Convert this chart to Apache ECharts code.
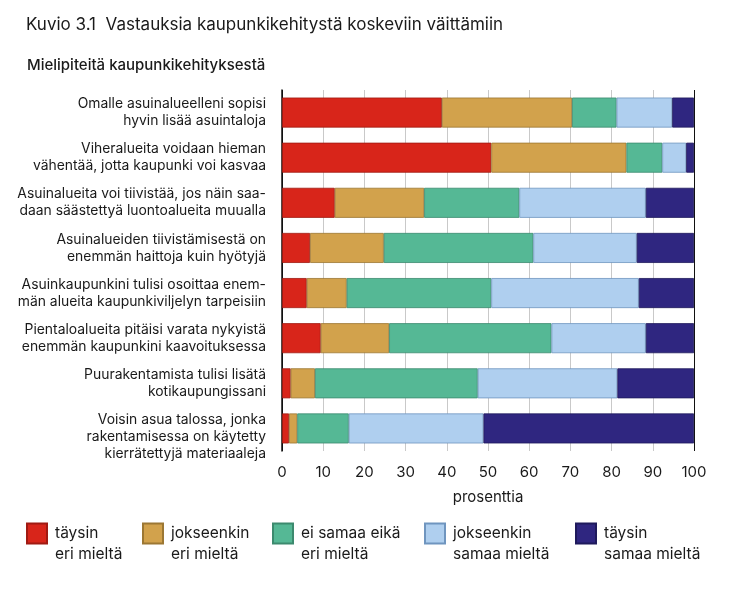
<!DOCTYPE html>
<html><head><meta charset="utf-8">
<script src="https://cdn.jsdelivr.net/npm/echarts@6/dist/echarts.min.js"></script>
<style>html,body{margin:0;padding:0;background:#fff}#c{width:730px;height:591px}</style>
</head><body><div id="c"></div>
<script>
const categories = [
  "Omalle asuinalueelleni sopisi\nhyvin lisää asuintaloja",
  "Viheralueita voidaan hieman\nvähentää, jotta kaupunki voi kasvaa",
  "Asuinalueita voi tiivistää, jos näin saa-\ndaan säästettyä luontoalueita muualla",
  "Asuinalueiden tiivistämisestä on\nenemmän haittoja kuin hyötyjä",
  "Asuinkaupunkini tulisi osoittaa enem-\nmän alueita kaupunkiviljelyn tarpeisiin",
  "Pientaloalueita pitäisi varata nykyistä\nenemmän kaupunkini kaavoituksessa",
  "Puurakentamista tulisi lisätä\nkotikaupungissani",
  "Voisin asua talossa, jonka\nrakentamisessa on käytetty\nkierrätettyjä materiaaleja"
];
const seriesNames = ["täysin\neri mieltä", "jokseenkin\neri mieltä", "ei samaa eikä\neri mieltä", "jokseenkin\nsamaa mieltä", "täysin\nsamaa mieltä"];
const taysinEri      = [38.8, 50.8, 12.8, 6.8, 6.0, 9.4, 2.1, 1.7];
const jokseenkinEri  = [31.6, 32.8, 21.7, 17.9, 9.7, 16.6, 5.9, 2.0];
const eiSamaaEikaEri = [10.8, 8.7, 23.1, 36.3, 35.1, 39.4, 39.5, 12.5];
const jokseenkinSamaa= [13.5, 5.8, 30.7, 25.1, 35.8, 22.9, 33.9, 32.7];
const taysinSamaa    = [5.3, 1.9, 11.7, 13.9, 13.4, 11.7, 18.6, 51.1];
const xTicks = [0, 10, 20, 30, 40, 50, 60, 70, 80, 90, 100];

const colors = ["#d8251a", "#d2a24c", "#55b895", "#afcfef", "#2f2680"];
const borders = ["#a01a12", "#9c7733", "#3c8a6e", "#6f95bf", "#1f1a5c"];
const dataArr = [taysinEri, jokseenkinEri, eiSamaaEikaEri, jokseenkinSamaa, taysinSamaa];
const FONT = "Inter, 'Noto Sans', sans-serif";
const legendLeft = [26, 142, 272, 424, 575];

const chart = echarts.init(document.getElementById('c'), null, {renderer: 'canvas'});
const splitColors = xTicks.map((t, i) => (i === 0 || i === xTicks.length - 1) ? '#111' : '#c9c9c9');

chart.setOption({
  animation: false,
  textStyle: {fontFamily: FONT},
  title: [
    {text: "Kuvio 3.1  Vastauksia kaupunkikehitystä koskeviin väittämiin", left: 21, top: 11,
     textStyle: {fontFamily: FONT, fontSize: 17, fontWeight: 400, color: '#1a1a1a'}},
    {text: "Mielipiteitä kaupunkikehityksestä", left: 22, top: 53,
     textStyle: {fontFamily: FONT, fontSize: 15, fontWeight: 500, color: '#1a1a1a'}}
  ],
  legend: seriesNames.map((n, i) => ({
    data: [n], left: legendLeft[i], top: 502, itemWidth: 20, itemHeight: 20, padding: 0,
    icon: 'rect', selectedMode: false,
    formatter: name => '\n' + name,
    textStyle: {fontFamily: FONT, fontSize: 15.5, color: '#1a1a1a', lineHeight: 21, padding: [0, 0, 0, 3]}
  })),
  grid: {left: 282, right: 36, top: 90, bottom: 140, containLabel: false},
  xAxis: {
    type: 'value', min: 0, max: 100, interval: 10,
    name: 'prosenttia', nameLocation: 'middle', nameGap: 39,
    nameTextStyle: {fontFamily: FONT, fontSize: 15, color: '#1a1a1a'},
    axisLine: {show: false}, axisTick: {show: false},
    axisLabel: {fontFamily: FONT, fontSize: 15, color: '#1a1a1a', margin: 14},
    splitLine: {show: true, lineStyle: {color: splitColors, width: 1}}
  },
  yAxis: {
    type: 'category', data: categories, inverse: true,
    axisLine: {show: true, lineStyle: {color: '#111', width: 1.5}},
    axisTick: {show: false},
    axisLabel: {fontFamily: FONT, fontSize: 13.9, color: '#1a1a1a', lineHeight: 17, align: 'right', margin: 16,
      interval: 0, hideOverlap: false,
      formatter: v => v.split('\n').length > 2 ? '\n' + v : v}
  },
  series: seriesNames.map((n, i) => ({
    name: n, type: 'bar', stack: 'total', barWidth: 30,
    data: dataArr[i],
    itemStyle: {color: colors[i], borderColor: borders[i], borderWidth: 0.8}
  }))
});
</script></body></html>
